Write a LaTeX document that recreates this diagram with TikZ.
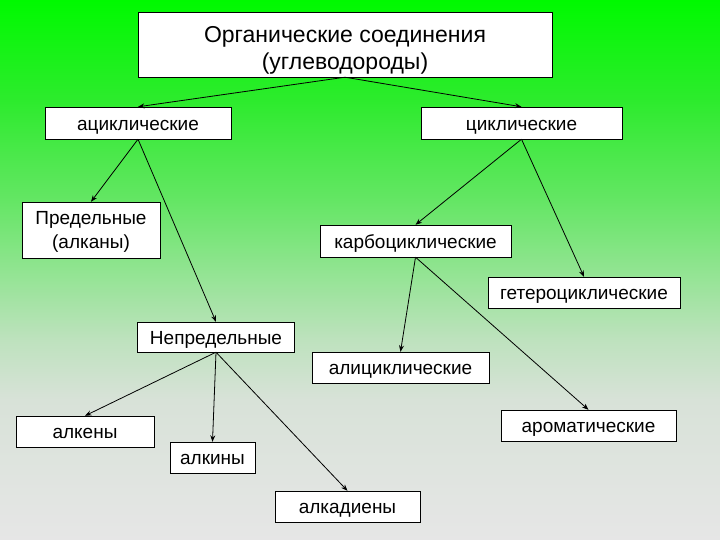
\documentclass[tikz,border=0pt]{standalone}
\usepackage{fontspec}
\setmainfont{Liberation Sans}
\usetikzlibrary{arrows.meta}
\definecolor{bgtop}{RGB}{0, 250, 0}
\definecolor{bgupper}{RGB}{45, 235, 45}
\definecolor{bgmid}{RGB}{100, 230, 100}
\definecolor{bglight}{RGB}{145, 228, 145}
\definecolor{bgpale}{RGB}{190, 226, 190}
\definecolor{bgfade}{RGB}{216, 226, 216}
\definecolor{bgbottom}{RGB}{230, 230, 230}
\pgfdeclareverticalshading{bggrad}{100bp}{color(0bp)=(bgbottom); color(25bp)=(bgbottom); color(38bp)=(bgfade); color(43.5bp)=(bgpale); color(50bp)=(bglight); color(56.5bp)=(bgmid); color(65.7bp)=(bgupper); color(75bp)=(bgtop); color(100bp)=(bgtop)}

\begin{document}
\begin{tikzpicture}[
        x=1pt, y=-1pt,
        box/.style={rectangle, draw=black, fill=white, inner sep=0pt, font=\fontsize{19}{22}\selectfont, text height=16.5pt, text depth=2pt},
        twoline/.style={rectangle, draw=black, fill=white, inner sep=0pt, align=center},
        flow/.style={-{Stealth[length=6.5pt, width=5pt]}, thick, color=black}
    ]
    
    % Background
    \shade[shading=bggrad] (0, 0) rectangle (720, 540);
    \useasboundingbox (0, 0) rectangle (720, 540);
    
    % Top level
    \node[twoline, minimum width=414pt, minimum height=65pt, font=\fontsize{23}{27}\selectfont] (organic) at (345, 44.5) {\rule{0pt}{27pt}Органические соединения\\(углеводороды)};
    
    % Acyclic / cyclic
    \node[box, minimum width=186pt, minimum height=32pt] (acyclic) at (138, 123) {ациклические};
    \node[box, minimum width=201pt, minimum height=32pt] (cyclic) at (521.5, 123) {циклические};
    
    % Acyclic branch
    \node[twoline, minimum width=138pt, minimum height=56pt, font=\fontsize{19}{24}\selectfont] (saturated) at (91, 230) {\rule{0pt}{17pt}Предельные\\(алканы)};
    \node[box, minimum width=157pt, minimum height=30pt] (unsaturated) at (216, 337) {Непредельные};
    \node[box, minimum width=138pt, minimum height=31pt] (alkenes) at (85, 431.5) {алкены};
    \node[box, minimum width=85pt, minimum height=31pt] (alkynes) at (212.5, 457.5) {алкины};
    \node[box, minimum width=145pt, minimum height=31pt] (alkadienes) at (347.5, 506.5) {алкадиены};
    
    % Cyclic branch
    \node[box, minimum width=191pt, minimum height=32pt] (carbocyclic) at (415.5, 241) {карбоциклические};
    \node[box, minimum width=192pt, minimum height=31pt] (heterocyclic) at (584, 292.5) {гетероциклические};
    \node[box, minimum width=177pt, minimum height=31pt] (alicyclic) at (400.5, 367.5) {алициклические};
    \node[box, minimum width=175pt, minimum height=31pt] (aromatic) at (588.5, 425.5) {ароматические};
    
    % Arrows
    \draw[flow] (organic.south) -- (acyclic.north);
    \draw[flow] (organic.south) -- (cyclic.north);
    \draw[flow] (acyclic.south) -- (saturated.north);
    \draw[flow] (acyclic.south) -- (unsaturated.north);
    \draw[flow] (cyclic.south) -- (carbocyclic.north);
    \draw[flow] (cyclic.south) -- (heterocyclic.north);
    \draw[flow] (carbocyclic.south) -- (alicyclic.north);
    \draw[flow] (carbocyclic.south) -- (aromatic.north);
    \draw[flow] (unsaturated.south) -- (alkenes.north);
    \draw[flow] (unsaturated.south) -- (alkynes.north);
    \draw[flow] (unsaturated.south) -- (alkadienes.north);
    
\end{tikzpicture}
\end{document}
